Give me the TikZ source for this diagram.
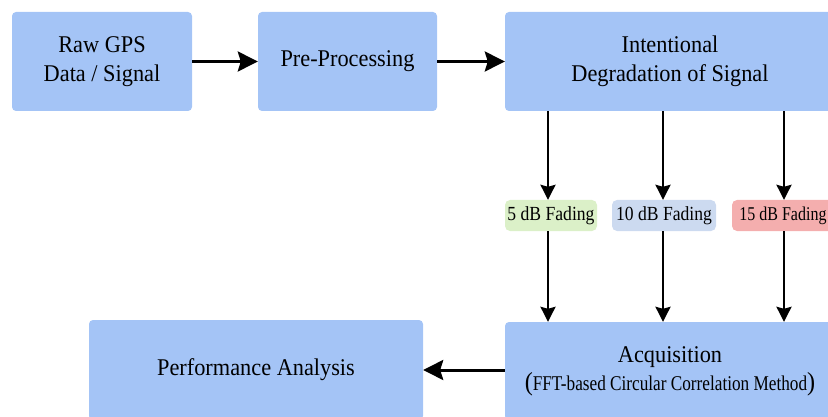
\documentclass[tikz,border=0pt]{standalone}
\usepackage{fontspec}
\setmainfont{Liberation Serif}
\newfontfamily\mainfont[FakeStretch=0.93]{Liberation Serif}
\newfontfamily\fadefont[FakeStretch=0.88]{Liberation Serif}
\newfontfamily\condfont[FakeStretch=0.82]{Liberation Serif}
\usetikzlibrary{arrows.meta}
\definecolor{boxblue}{HTML}{A4C4F6}
\definecolor{fgreen}{HTML}{DBF0C8}
\definecolor{fblue}{HTML}{CCDAF0}
\definecolor{fred}{HTML}{F4AEAE}
\tikzset{
  box/.style={fill=boxblue, draw=none, rounded corners=4pt, inner sep=0pt,
    align=center, font=\mainfont\fontsize{24}{29}\selectfont},
  fade/.style={draw=none, rounded corners=5pt, inner sep=0pt,
    minimum height=31pt, font=\fadefont\fontsize{20}{22}\selectfont},
  harr/.style={line width=3pt, -{Stealth[length=20pt,width=20pt,inset=3pt]}},
  varr/.style={line width=2.4pt, -{Stealth[length=15pt,width=15pt,inset=2pt]}}
}
\begin{document}
\begin{tikzpicture}[x=1pt,y=-1pt]
\useasboundingbox (0,0) rectangle (828,417);
\clip (0,0) rectangle (828,417);
\node[box, minimum width=180pt, minimum height=99pt] (raw) at (102,61.5) {Raw GPS\\Data / Signal};
\node[box, minimum width=179pt, minimum height=99pt] (pre) at (347.5,61.5) {Pre-Processing};
\node[box, minimum width=330pt, minimum height=99pt] (deg) at (670,61.5) {Intentional\\Degradation of Signal};
\node[fade, fill=fgreen, minimum width=92pt] (f5) at (551,215.5) {5 dB Fading};
\node[fade, fill=fblue, minimum width=104pt] (f10) at (664,215.5) {10 dB Fading};
\node[fade, fill=fred, minimum width=102pt] (f15) at (783,215.5)
  {\condfont\fontsize{19.5}{22}\selectfont 15 dB Fading};
\node[box, minimum width=330pt, minimum height=98pt] (acq) at (670,371)
  {Acquisition\\[-1pt]{\fontsize{26}{29}\selectfont(}{\condfont\fontsize{21}{29}\selectfont FFT-based Circular Correlation Method}{\fontsize{26}{29}\selectfont)}};
\node[box, minimum width=334pt, minimum height=100pt] (perf) at (256,370) {Performance Analysis};
\coordinate (c1) at (548,0);
\coordinate (c2) at (663,0);
\coordinate (c3) at (784,0);
\draw[harr] (raw.east) -- (pre.west);
\draw[harr] (pre.east) -- (deg.west);
\draw[varr] (deg.south -| c1) -- (f5.north -| c1);
\draw[varr] (deg.south -| c2) -- (f10.north -| c2);
\draw[varr] (deg.south -| c3) -- (f15.north -| c3);
\draw[varr] (f5.south -| c1) -- (acq.north -| c1);
\draw[varr] (f10.south -| c2) -- (acq.north -| c2);
\draw[varr] (f15.south -| c3) -- (acq.north -| c3);
\draw[harr] (acq.west |- perf.east) -- (perf.east);
\end{tikzpicture}
\end{document}
